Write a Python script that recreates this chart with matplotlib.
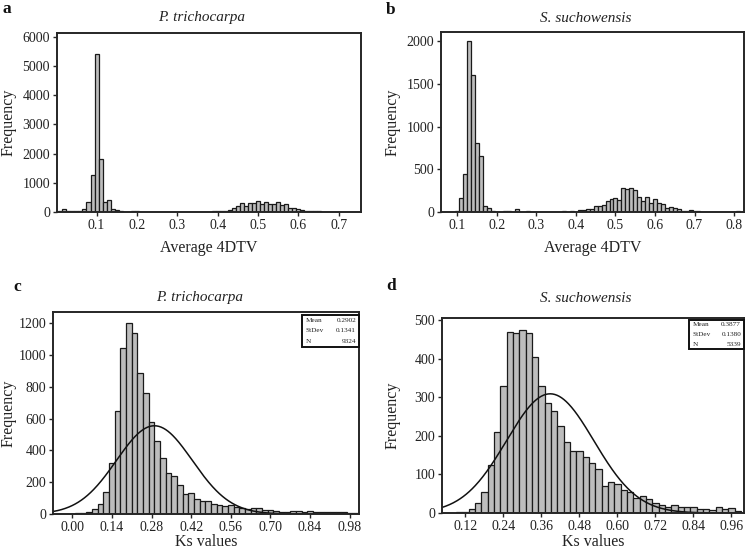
import numpy as np
import matplotlib
matplotlib.use("Agg")
import matplotlib.pyplot as plt
from matplotlib.patches import Rectangle

plt.rcParams['font.family'] = ['Liberation Serif', 'DejaVu Serif']

# ---------------- data ----------------
# panel a: P. trichocarpa, average 4DTV, bin width 0.01
a_centers = [round(0.01 * k, 2) for k in range(1, 73)]
a_counts = [50, 90, 50, 40, 40, 50, 90, 330, 1250, 5400,
            1820, 330, 420, 100, 60, 30, 15, 10, 20, 35,
            15, 15, 15, 5, 5, 5, 3, 3, 3, 3,
            3, 3, 3, 3, 3, 3, 5, 10, 20, 30,
            30, 40, 60, 150, 190, 310, 210, 310, 300, 380,
            290, 350, 280, 260, 350, 250, 270, 130, 140, 100,
            60, 50, 40, 20, 20, 15, 15, 10, 15, 10,
            15, 10]

# panel b: S. suchowensis, average 4DTV, bin width 0.01
b_centers = [round(0.01 * k, 2) for k in range(8, 82)]
b_counts = [5, 5, 15, 160, 440, 2000, 1610, 810, 660, 70,
            45, 10, 5, 5, 10, 10, 5, 30, 5, 5,
            10, 3, 3, 3, 3, 3, 3, 3, 3, 10,
            5, 10, 5, 25, 25, 35, 35, 75, 65, 80,
            130, 150, 160, 140, 285, 275, 285, 255, 170, 130,
            180, 100, 150, 105, 90, 50, 55, 45, 30, 15,
            10, 20, 15, 10, 5, 3, 3, 3, 5, 5,
            5, 3, 3, 10]

# panel c: P. trichocarpa, Ks, bin width 0.02
c_centers = [round(0.02 * k, 2) for k in range(0, 51)]
c_counts = [3, 5, 5, 15, 30, 65, 140, 320, 650, 1045,
            1200, 1140, 885, 760, 580, 460, 350, 255, 240, 180,
            125, 130, 95, 80, 80, 60, 55, 50, 55, 45,
            35, 30, 35, 35, 25, 25, 20, 15, 15, 20,
            20, 15, 20, 10, 15, 10, 15, 10, 10, 5, 5]
c_stats = {"Mean": 0.2902, "StDev": 0.1341, "N": 9324}

# panel d: S. suchowensis, Ks, bin width 0.02
d_centers = [round(0.02 * k, 2) for k in range(5, 50)]
d_counts = [3, 3, 10, 25, 55, 125, 210, 330, 470, 465,
            475, 465, 405, 330, 285, 265, 225, 185, 160, 160,
            145, 130, 115, 70, 80, 75, 60, 55, 40, 45,
            35, 25, 20, 15, 20, 15, 15, 15, 10, 10,
            8, 15, 10, 12, 5]
d_stats = {"Mean": 0.3877, "StDev": 0.1380, "N": 5339}

titles = ["P. trichocarpa", "S. suchowensis", "P. trichocarpa", "S. suchowensis"]
panel_letters = ["a", "b", "c", "d"]
xlabels = ["Average 4DTV", "Average 4DTV", "Ks values", "Ks values"]

a_xticks = [0.1, 0.2, 0.3, 0.4, 0.5, 0.6, 0.7]
b_xticks = [0.1, 0.2, 0.3, 0.4, 0.5, 0.6, 0.7, 0.8]
c_xticks = [0.00, 0.14, 0.28, 0.42, 0.56, 0.70, 0.84, 0.98]
d_xticks = [0.12, 0.24, 0.36, 0.48, 0.60, 0.72, 0.84, 0.96]
a_yticks = [0, 1000, 2000, 3000, 4000, 5000, 6000]
b_yticks = [0, 500, 1000, 1500, 2000]
c_yticks = [0, 200, 400, 600, 800, 1000, 1200]
d_yticks = [0, 100, 200, 300, 400, 500]

# ---------------- figure ----------------
W, H = 747, 549
fig = plt.figure(figsize=(W / 100, H / 100), dpi=100)


def px_axes(l, t, r, b):
    return fig.add_axes([l / W, 1 - b / H, (r - l) / W, (b - t) / H])


axA = px_axes(57, 33, 361, 212)
axB = px_axes(441, 32, 744, 212)
axC = px_axes(53, 312, 359, 514)
axD = px_axes(442, 318, 744, 513)

FILL = "#bdbdbd"
EDGE = "#1a1a1a"
TXT = "#222222"


def style(ax, xticks, yticks, xfmt):
    for s in ax.spines.values():
        s.set_linewidth(1.4)
        s.set_color("#262626")
    ax.set_xticks(xticks)
    ax.set_xticklabels([xfmt.format(v) for v in xticks])
    ax.set_yticks(yticks)
    ax.tick_params(axis="both", direction="out", length=3, width=1,
                   labelsize=10, colors="#262626", labelcolor=TXT, pad=2)


def hist(ax, centers, counts, width):
    ax.bar(centers, counts, width=width, color=FILL, edgecolor=EDGE,
           linewidth=0.9, align="center")


# a
hist(axA, a_centers, a_counts, 0.01)
axA.set_xlim(0.002, 0.755)
axA.set_ylim(0, 6130)
style(axA, a_xticks, a_yticks, "{:.1f}")

# b
hist(axB, b_centers, b_counts, 0.01)
axB.set_xlim(0.059, 0.825)
axB.set_ylim(0, 2110)
style(axB, b_xticks, b_yticks, "{:.1f}")

# c
hist(axC, c_centers, c_counts, 0.02)
axC.set_xlim(-0.068, 1.013)
axC.set_ylim(0, 1270)
style(axC, c_xticks, c_yticks, "{:.2f}")

# d
hist(axD, d_centers, d_counts, 0.02)
axD.set_xlim(0.046, 1.0)
axD.set_ylim(0, 505)
style(axD, d_xticks, d_yticks, "{:.2f}")


def normal_curve(ax, stats, width):
    lo, hi = ax.get_xlim()
    x = np.linspace(lo, hi, 400)
    m, s, n = stats["Mean"], stats["StDev"], stats["N"]
    y = n * width * np.exp(-0.5 * ((x - m) / s) ** 2) / (s * np.sqrt(2 * np.pi))
    ax.plot(x, y, color="#111111", lw=1.1, clip_on=True)


normal_curve(axC, c_stats, 0.02)
normal_curve(axD, d_stats, 0.02)


def stat_box(ax, stats, x0, x1, y0, y1):
    # box in axes fraction coords
    ax.add_patch(Rectangle((x0, y0), x1 - x0, y1 - y0, transform=ax.transAxes,
                           facecolor="white", edgecolor="#111111", lw=1.4,
                           zorder=5, clip_on=False))
    keys = ["Mean", "StDev", "N"]
    vals = ["{:.4f}".format(stats["Mean"]), "{:.4f}".format(stats["StDev"]),
            "{:d}".format(stats["N"])]
    h = (y1 - y0)
    for i, (k, v) in enumerate(zip(keys, vals)):
        yy = y1 - h * (i + 0.5) / 3
        ax.text(x0 + 0.012, yy, k, transform=ax.transAxes, fontsize=5.2,
                ha="left", va="center", zorder=6, color=TXT)
        ax.text(x1 - 0.008, yy, v, transform=ax.transAxes, fontsize=5.2,
                ha="right", va="center", zorder=6, color=TXT)


def frac(ax, xp, yp):
    bb = ax.get_position()
    return ((xp / W - bb.x0) / bb.width, ((1 - yp / H) - bb.y0) / bb.height)


fx0, fy1 = frac(axC, 302, 315)
fx1, fy0 = frac(axC, 358.5, 347)
stat_box(axC, c_stats, fx0, fx1, fy0, fy1)
fx0, fy1 = frac(axD, 689, 320)
fx1, fy0 = frac(axD, 743.5, 349)
stat_box(axD, d_stats, fx0, fx1, fy0, fy1)

# labels
axes = [axA, axB, axC, axD]
title_pos = [(202, 18), (586, 18), (200, 298), (586, 298)]
letter_pos = [(3, 9), (386, 10), (13, 287), (386, 286)]
xlabel_y = [248, 248, 542, 542]
ylabel_x = [9, 393, 9, 393]

for ax, t, tp, lt, lp, xl, xly, ylx in zip(axes, titles, title_pos, panel_letters,
                                           letter_pos, xlabels, xlabel_y, ylabel_x):
    fig.text(tp[0] / W, 1 - tp[1] / H, t, fontsize=11, style="italic",
             ha="center", va="center", color=TXT)
    fig.text(lp[0] / W, 1 - lp[1] / H, lt, fontsize=12.5, fontweight="bold",
             ha="left", va="center", color="#111111")
    bb = ax.get_position()
    fig.text((bb.x0 + bb.x1) / 2, 1 - xly / H, xl, fontsize=11.5,
             ha="center", va="center", color=TXT)
    fig.text(ylx / W, (bb.y0 + bb.y1) / 2, "Frequency", fontsize=11.5,
             rotation=90, ha="center", va="center", color=TXT)

fig.savefig("out.png", dpi=100)
